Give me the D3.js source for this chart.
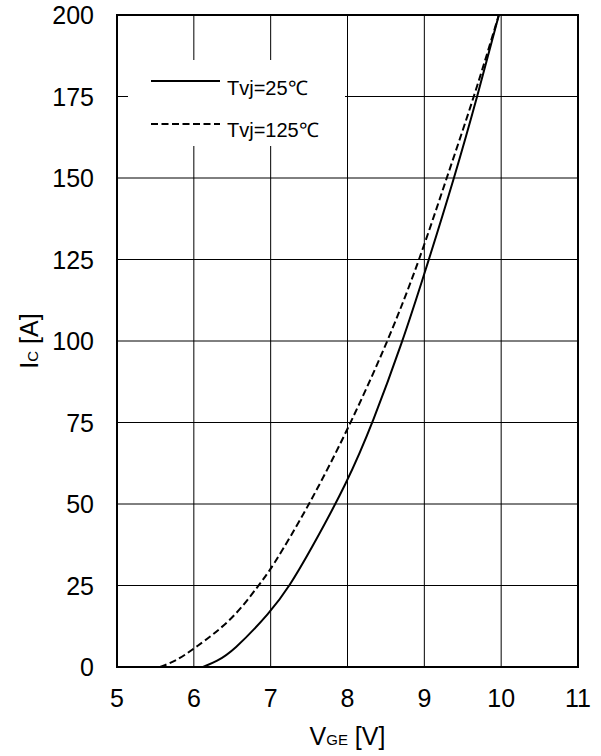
<!DOCTYPE html>
<html lang="en">
	<head>
		<meta charset="utf-8">
		<title>IC vs VGE</title>
		<script type="text/javascript" src="https://cdn.jsdelivr.net/npm/d3@7"></script>
		<style type="text/css">
			body { margin: 0; background: #fff; }
			svg { display: block; font-family: "Liberation Sans", Arial, sans-serif; }
			.grid line { stroke: #000; stroke-width: 1; }
			.curve { fill: none; stroke: #000; stroke-width: 2; }
		</style>
	</head>
	<body>
		<script type="text/javascript">

			let w = 601;
			let h = 756;

			// tick values
			let xTicks = [5, 6, 7, 8, 9, 10, 11];
			let yTicks = [0, 25, 50, 75, 100, 125, 150, 175, 200];

			// [VGE, IC]
			let vge25 = [6.12, 6.3, 6.5, 7, 7.25, 7.5, 8, 8.33, 8.72, 9, 9.39, 9.69, 9.97];
			let ic25 = [0, 1.8, 4.6, 16.8, 25, 35, 56.7, 75, 100, 120.5, 150, 175, 200];
			let vge125 = [5.56, 5.78, 6, 6.5, 6.84, 7, 7.51, 8, 8.53, 8.94, 9.29, 9.65, 9.97];
			let ic125 = [0, 2, 5.6, 14.3, 25, 29.7, 50, 72.6, 100, 125, 150, 175, 200];

			let legendLabels = ["Tvj=25\u2103", "Tvj=125\u2103"];

			let xScale = d3.scaleLinear().domain([5, 11]).range([117, 578]);
			let yScale = d3.scaleLinear().domain([0, 200]).range([667, 15]);

			let svg = d3.select("body")
						.append("svg")
						.attr("width", w)
						.attr("height", h);

			//Gridlines
			let grid = svg.append("g").attr("class", "grid");
			grid.selectAll("line.v")
				.data(xTicks.slice(1, -1))
				.enter()
				.append("line")
				.attr("x1", d => xScale(d)).attr("x2", d => xScale(d))
				.attr("y1", yScale(0)).attr("y2", yScale(200));
			grid.selectAll("line.h")
				.data(yTicks.slice(1, -1))
				.enter()
				.append("line")
				.attr("y1", d => yScale(d)).attr("y2", d => yScale(d))
				.attr("x1", xScale(5)).attr("x2", xScale(11));

			//Legend background covers the grid
			svg.append("rect")
				.attr("x", 128).attr("y", 60)
				.attr("width", 217).attr("height", 86)
				.attr("fill", "#fff");

			//Curves
			let line = d3.line()
						.x(d => xScale(d[0]))
						.y(d => yScale(d[1]))
						.curve(d3.curveBasis);

			svg.append("defs").append("clipPath").attr("id", "plot")
				.append("rect")
				.attr("x", xScale(5)).attr("y", yScale(200))
				.attr("width", xScale(11) - xScale(5))
				.attr("height", yScale(0) - yScale(200));

			svg.append("path")
				.datum(d3.zip(vge25, ic25))
				.attr("class", "curve")
				.attr("clip-path", "url(#plot)")
				.attr("d", line);

			svg.append("path")
				.datum(d3.zip(vge125, ic125))
				.attr("class", "curve")
				.attr("stroke-dasharray", "7,3.5")
				.attr("clip-path", "url(#plot)")
				.attr("d", line);

			//Frame
			svg.append("rect")
				.attr("x", xScale(5)).attr("y", yScale(200))
				.attr("width", xScale(11) - xScale(5))
				.attr("height", yScale(0) - yScale(200))
				.attr("fill", "none")
				.attr("stroke", "#000")
				.attr("stroke-width", 2);

			//Tick labels
			svg.selectAll("text.xt")
				.data(xTicks)
				.enter()
				.append("text")
				.attr("class", "xt")
				.attr("x", d => xScale(d))
				.attr("y", 707)
				.attr("text-anchor", "middle")
				.attr("font-size", "25px")
				.text(d => d);

			svg.selectAll("text.yt")
				.data(yTicks)
				.enter()
				.append("text")
				.attr("class", "yt")
				.attr("x", 94)
				.attr("y", d => yScale(d))
				.attr("dy", "0.36em")
				.attr("text-anchor", "end")
				.attr("font-size", "25px")
				.text(d => d);

			//Axis titles
			let xt = svg.append("text")
				.attr("x", (xScale(5) + xScale(11)) / 2)
				.attr("y", 745)
				.attr("text-anchor", "middle")
				.attr("font-size", "25px");
			xt.append("tspan").text("V");
			xt.append("tspan").attr("font-size", "15px").text("GE");
			xt.append("tspan").text(" [V]");

			let yt = svg.append("text")
				.attr("transform", "translate(38," + (yScale(0) + yScale(200)) / 2 + ") rotate(-90)")
				.attr("text-anchor", "middle")
				.attr("font-size", "25px");
			yt.append("tspan").text("I");
			yt.append("tspan").attr("font-size", "15px").text("C");
			yt.append("tspan").text(" [A]");

			//Legend
			let legend = svg.append("g");
			legend.selectAll("line")
				.data(legendLabels)
				.enter()
				.append("line")
				.attr("x1", 151).attr("x2", 220)
				.attr("y1", (d, i) => 81 + i * 43)
				.attr("y2", (d, i) => 81 + i * 43)
				.attr("stroke", "#000")
				.attr("stroke-width", 2)
				.attr("stroke-dasharray", (d, i) => i == 0 ? null : "7,3.5");
			legend.selectAll("text")
				.data(legendLabels)
				.enter()
				.append("text")
				.attr("x", 227)
				.attr("y", (d, i) => 95 + i * 41.7)
				.attr("font-size", "20px")
				.text(d => d);

		</script>
	</body>
</html>
